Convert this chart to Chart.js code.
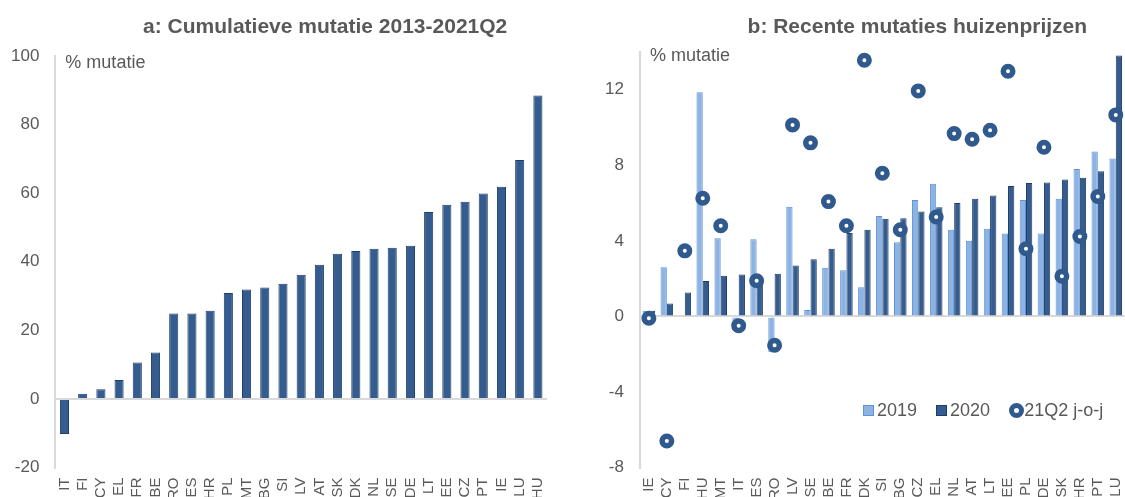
<!DOCTYPE html>
<html>
<head>
<meta charset="utf-8">
<script src="https://cdn.jsdelivr.net/npm/chart.js@4/dist/chart.umd.min.js"></script>
<style>
  body { margin: 0; overflow: hidden; background: #fff; font-family: "Liberation Sans", Arial, sans-serif; }
  #wrap { position: relative; width: 1125px; height: 497px; overflow: hidden; }
  canvas { position: absolute; top: 0; }
  #chartA { left: 0; }
  #chartB { left: 560px; }
  #legend { position: absolute; left: 863px; top: 399px; font-size: 18px; color: #595959; white-space: nowrap; }
  #legend span { display: inline-block; vertical-align: middle; }
  .sq { width: 9px; height: 9px; margin-right: 3px; }
  .dot { width: 5px; height: 5px; border: 5px solid #30598e; border-radius: 50%; background: #fff; margin-right: 0; }
  .lbl { margin-right: 14px; }
</style>
</head>
<body>
<div id="wrap">
  <canvas id="chartA" width="560" height="500"></canvas>
  <canvas id="chartB" width="575" height="500"></canvas>
  <div id="legend">
    <span class="sq" style="background:#8db3e2;border:1px solid #5f93d8"></span><span class="lbl">2019</span>
    <span class="sq" style="background:#345c8f;border:1px solid #1f3d66"></span><span class="lbl">2020</span>
    <span class="dot"></span><span>21Q2 j-o-j</span>
  </div>
</div>
<script>
  // a: cumulatieve mutatie 2013-2021Q2
  var landenA = ['IT','FI','CY','EL','FR','BE','RO','ES','HR','PL','MT','BG','SI','LV','AT','SK','DK','NL','SE','DE','LT','EE','CZ','PT','IE','LU','HU'];
  var cumulatief = [-10.2, 1.5, 2.8, 5.5, 10.6, 13.5, 24.9, 24.9, 25.7, 30.9, 31.9, 32.5, 33.6, 36.2, 39.1, 42.3, 43.1, 43.8, 44.1, 44.7, 54.5, 56.6, 57.5, 59.9, 61.9, 69.7, 88.5];

  // b: recente mutaties huizenprijzen
  var landenB = ['IE','CY','FI','HU','MT','IT','ES','RO','LV','SE','BE','FR','DK','SI','BG','CZ','EL','NL','AT','LT','EE','PL','DE','SK','HR','PT','LU'];
  var mut2019 = [0.3, 2.6, 0.05, 11.87, 4.14, -0.3, 4.09, -1.9, 5.8, 0.34, 2.57, 2.45, 1.55, 5.31, 3.93, 6.16, 7.02, 4.59, 4.0, 4.64, 4.39, 6.16, 4.39, 6.23, 7.8, 8.73, 8.36];
  var mut2020 = [0.3, 0.69, 1.27, 1.87, 2.15, 2.22, 2.0, 2.26, 2.7, 3.03, 3.58, 4.41, 4.59, 5.17, 5.2, 5.56, 5.78, 6.0, 6.23, 6.4, 6.9, 7.07, 7.09, 7.25, 7.34, 7.69, 13.81];
  var mut21Q2 = [-0.1, -6.6, 3.47, 6.26, 4.8, -0.49, 1.89, -1.53, 10.14, 9.19, 6.08, 4.8, 13.56, 7.58, 4.59, 11.94, 5.26, 9.68, 9.38, 9.86, 12.98, 3.58, 8.96, 2.13, 4.23, 6.35, 10.67];

  var grijs = '#595959';
  var lijn = '#d9d9d9';
  var leeg = 'rgba(0,0,0,0)';
  var font = '"Liberation Sans", Arial, sans-serif';

  Chart.defaults.font.family = font;
  Chart.defaults.color = grijs;

  // titel boven het plotgebied en "% mutatie" in de linkerbovenhoek
  var teksten = {
    id: 'teksten',
    afterDraw: function(chart, args, opts) {
      var ctx = chart.ctx;
      var ca = chart.chartArea;
      ctx.save();
      ctx.fillStyle = grijs;
      ctx.textBaseline = 'middle';
      ctx.textAlign = 'center';
      ctx.font = 'bold 21px ' + font;
      ctx.fillText(opts.titel, (ca.left + ca.right) / 2 + opts.dx, 27);
      ctx.textAlign = 'left';
      ctx.font = '18px ' + font;
      ctx.fillText(opts.eenheid, ca.left + 10, ca.top + opts.dy);
      ctx.restore();
    }
  };

  function yAs(min, max, step) {
    return {
      min: min,
      max: max,
      ticks: { stepSize: step, padding: 4, font: { size: 17 }, color: grijs },
      afterBuildTicks: function(s) {
        s.ticks = s.ticks.filter(function(t) { return t.value % step === 0; });
      },
      grid: {
        drawTicks: true,
        tickLength: 12,
        tickColor: leeg,
        lineWidth: 2,
        color: function(c) { return c.tick && c.tick.value === 0 ? lijn : leeg; }
      },
      border: { display: true, color: lijn, width: 2 }
    };
  }

  var xAs = {
    grid: { display: true, drawOnChartArea: false, drawTicks: true, tickLength: 10, color: leeg, tickColor: leeg },
    border: { display: false },
    ticks: { autoSkip: false, minRotation: 90, maxRotation: 90, padding: 0, font: { size: 15, lineHeight: 0.2 }, color: grijs }
  };

  new Chart('chartA', {
    type: 'bar',
    data: {
      labels: landenA,
      datasets: [{
        data: cumulatief,
        backgroundColor: '#345c8f',
        borderColor: '#203f68',
        borderWidth: 1,
        barPercentage: 0.5,
        categoryPercentage: 1
      }]
    },
    options: {
      responsive: false,
      animation: false,
      layout: { padding: { left: 7, right: 13, top: 56, bottom: 0 } },
      scales: { x: xAs, y: yAs(-20, 100, 20) },
      plugins: {
        legend: { display: false },
        tooltip: { enabled: false },
        teksten: { titel: 'a: Cumulatieve mutatie 2013-2021Q2', dx: 24, eenheid: '% mutatie', dy: 7 }
      }
    },
    plugins: [teksten]
  });

  new Chart('chartB', {
    type: 'bar',
    data: {
      labels: landenB,
      datasets: [
        {
          label: '21Q2 j-o-j',
          type: 'line',
          data: mut21Q2,
          showLine: false,
          pointRadius: 4.75,
          pointBorderWidth: 5.5,
          pointBackgroundColor: '#ffffff',
          pointBorderColor: '#30598e',
          order: 0
        },
        {
          label: '2019',
          data: mut2019,
          backgroundColor: '#8db3e2',
          borderColor: '#5f93d8',
          borderWidth: 1,
          barPercentage: 1,
          categoryPercentage: 0.7,
          order: 1
        },
        {
          label: '2020',
          data: mut2020,
          backgroundColor: '#345c8f',
          borderColor: '#1f3d66',
          borderWidth: 1,
          barPercentage: 1,
          categoryPercentage: 0.7,
          order: 1
        }
      ]
    },
    options: {
      responsive: false,
      animation: false,
      layout: { padding: { left: 41, right: 1, top: 52, bottom: 0 } },
      scales: { x: xAs, y: yAs(-8, 14, 4) },
      plugins: {
        legend: { display: false },
        tooltip: { enabled: false },
        teksten: { titel: 'b: Recente mutaties huizenprijzen', dx: 35, eenheid: '% mutatie', dy: 4 }
      }
    },
    plugins: [teksten]
  });
</script>
</body>
</html>
